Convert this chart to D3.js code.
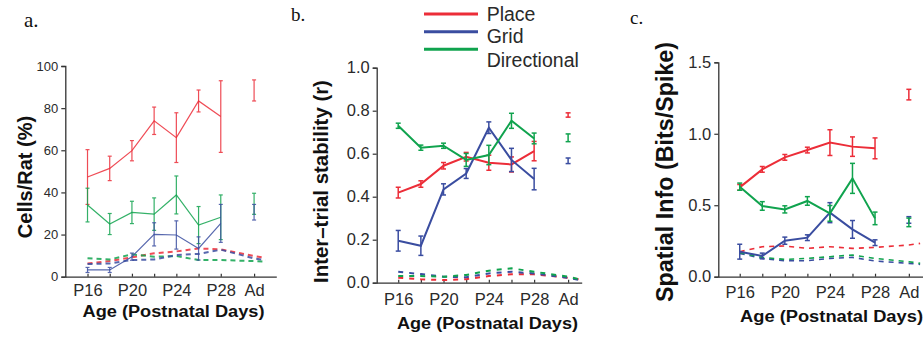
<!DOCTYPE html>
<html><head><meta charset="utf-8">
<script src="https://cdn.jsdelivr.net/npm/d3@7"></script>
<style>html,body{margin:0;padding:0;background:#fff;overflow:hidden}</style>
</head><body>
<svg id="chart" width="923" height="337"></svg>
<script>
// ---------- data ----------
const ages = ["P16","P18","P20","P22","P24","P26","P28","Ad"];
const agePos = [0,1,2,3,4,5,6,7.5];
const tickLabels = ["P16","P20","P24","P28","Ad"];
const shufflePos = [0,1,2,3,4,5,6,7.5,8];
const seriesNames = ["Place","Grid","Directional"];

// a. Cells/Rat (%)
const cellsPlace    = [47.3, 51.4, 59.8, 74.0, 66.0, 83.4, 76.0, 88.4];
const cellsPlaceErr = [13, 5.8, 4.8, 6.5, 11.8, 5.2, 17, 5];
const cellsGrid     = [3.2, 3.2, 9.5, 20.1, 19.8, 13.4, 25.3, 30.6];
const cellsGridErr  = [1.2, 1.2, 1.7, 5.5, 6.7, 5.5, 9, 3.7];
const cellsDir      = [34.0, 25.0, 30.5, 29.7, 38.8, 24.5, 28.2, 34.6];
const cellsDirErr   = [8, 5, 5.3, 7.7, 9, 8.8, 10.6, 5];
const cellsPlaceShuf = [6.3, 7.4, 9.2, 11.1, 12.0, 13.4, 13.0, 9.8, 9.0];
const cellsGridShuf  = [6.0, 6.3, 7.9, 8.2, 10.3, 10.8, 12.8, 8.7, 7.9];
const cellsDirShuf   = [8.7, 8.2, 10.6, 9.5, 9.8, 7.9, 7.9, 7.4, 7.1];

// b. Inter-trial stability (r)
const stabPlace    = [0.419, 0.459, 0.544, 0.586, 0.558, 0.550, 0.612, 0.780];
const stabPlaceErr = [0.025, 0.015, 0.015, 0.020, 0.035, 0.035, 0.045, 0.010];
const stabGrid     = [0.195, 0.172, 0.434, 0.508, 0.721, 0.571, 0.482, 0.567];
const stabGridErr  = [0.048, 0.045, 0.026, 0.023, 0.027, 0.054, 0.050, 0.013];
const stabDir      = [0.730, 0.628, 0.637, 0.571, 0.594, 0.753, 0.671, 0.674];
const stabDirErr   = [0.012, 0.012, 0.012, 0.030, 0.045, 0.035, 0.025, 0.018];
const stabPlaceShuf = [0.023, 0.016, 0.012, 0.016, 0.031, 0.039, 0.039, 0.023, 0.016];
const stabGridShuf  = [0.051, 0.040, 0.028, 0.025, 0.043, 0.051, 0.043, 0.023, 0.012];
const stabDirShuf   = [0.031, 0.031, 0.028, 0.036, 0.056, 0.067, 0.051, 0.028, 0.016];

// c. Spatial Info (Bits/Spike)
const infoPlace    = [0.625, 0.751, 0.835, 0.886, 0.938, 0.910, 0.898, 1.274];
const infoPlaceErr = [0.020, 0.020, 0.020, 0.020, 0.090, 0.068, 0.073, 0.037];
const infoGrid     = [0.175, 0.145, 0.252, 0.273, 0.448, 0.331, 0.238, 0.397];
const infoGridErr  = [0.052, 0.020, 0.025, 0.020, 0.070, 0.062, 0.020, 0.023];
const infoDir      = [0.630, 0.495, 0.471, 0.530, 0.443, 0.688, 0.408, 0.380];
const infoDirErr   = [0.025, 0.030, 0.025, 0.030, 0.055, 0.105, 0.044, 0.030];
const infoPlaceShuf = [0.175, 0.210, 0.215, 0.198, 0.210, 0.198, 0.205, 0.222, 0.233];
const infoGridShuf  = [0.163, 0.128, 0.112, 0.112, 0.128, 0.135, 0.110, 0.093, 0.086];
const infoDirShuf   = [0.168, 0.135, 0.121, 0.128, 0.140, 0.152, 0.128, 0.105, 0.093];

const yTicksA = [0,20,40,60,80,100];
const yTicksB = [0,0.2,0.4,0.6,0.8,1.0];
const yTicksC = [0,0.5,1.0,1.5];

// ---------- styling ----------
const colors = {Place:"#ec2d38", Grid:"#3a4da0", Directional:"#10a34e"};
const svg = d3.select("#chart");
const txt = "#2a2a2a";

const panels = [
  {label:"a.", lx:24, ly:27, lsize:21,
   xr:[65.3,276.3], xd:[-1,8.5], yr:[276.7,66], yd:[0,100], ticks:yTicksA, fmt:d3.format("d"),
   ytf:13, xtf:16.5, xtb:296,
   ytitle:"Cells/Rat (%)", ytx:32, yty:177, ytsize:20,
   xtitle:"Age (Postnatal Days)", xtx:173.5, xtyb:317, xtanchor:"middle", xtsize:16, xtlen:182,
   lw:1.2, ew:1.2, cap:4, op:0.85, dw:2, dash:"5,4",
   series:[
     {name:"Place", m:cellsPlace, e:cellsPlaceErr, s:cellsPlaceShuf},
     {name:"Directional", m:cellsDir, e:cellsDirErr, s:cellsDirShuf},
     {name:"Grid", m:cellsGrid, e:cellsGridErr, s:cellsGridShuf}]},
  {label:"b.", lx:291, ly:21, lsize:19,
   xr:[376.7,581.7], xd:[-0.95,8.1], yr:[282.7,67.7], yd:[0,1], ticks:yTicksB, fmt:d3.format(".1f"),
   ytf:16.5, xtf:16.5, xtb:305,
   ytitle:"Inter\u2013trial stability (r)", ytx:327.5, yty:181.5, ytsize:20.4,
   xtitle:"Age (Postnatal Days)", xtx:487.5, xtyb:328.5, xtanchor:"middle", xtsize:16, xtlen:181,
   lw:2, ew:1.5, cap:5, op:1, dw:2, dash:"5,6",
   series:[
     {name:"Place", m:stabPlace, e:stabPlaceErr, s:stabPlaceShuf},
     {name:"Grid", m:stabGrid, e:stabGridErr, s:stabGridShuf},
     {name:"Directional", m:stabDir, e:stabDirErr, s:stabDirShuf}]},
  {label:"c.", lx:630, ly:24, lsize:19,
   xr:[718.3,931.4], xd:[-0.95,8.5], yr:[276.7,62.3], yd:[0,1.5], ticks:yTicksC, fmt:d3.format(".1f"),
   ytf:16.5, xtf:16.5, xtb:298,
   ytitle:"Spatial Info (Bits/Spike)", ytx:672.5, yty:172, ytsize:23.3,
   xtitle:"Age (Postnatal Days)", xtx:740, xtyb:322, xtanchor:"start", xtsize:16, xtlen:183,
   lw:2, ew:1.5, cap:5, op:1, dw:1.6, dash:"5,5",
   series:[
     {name:"Place", m:infoPlace, e:infoPlaceErr, s:infoPlaceShuf},
     {name:"Grid", m:infoGrid, e:infoGridErr, s:infoGridShuf},
     {name:"Directional", m:infoDir, e:infoDirErr, s:infoDirShuf}]}
];

panels.forEach(p => {
  const x = d3.scaleLinear().domain(p.xd).range(p.xr);
  const y = d3.scaleLinear().domain(p.yd).range(p.yr);
  const g = svg.append("g");

  // panel label
  g.append("text").attr("x",p.lx).attr("y",p.ly)
    .attr("font-family","'Liberation Serif','Times New Roman',serif")
    .attr("font-size",p.lsize).attr("fill","#111").text(p.label);

  // y axis
  const ya = g.append("g").attr("transform",`translate(${p.xr[0]},0)`)
    .call(d3.axisLeft(y).tickValues(p.ticks).tickFormat(p.fmt).tickSize(4).tickPadding(3));
  ya.select(".domain").attr("stroke","#333").attr("stroke-width",1.3);
  ya.selectAll(".tick line").attr("stroke","#333").attr("stroke-width",1.2);
  ya.selectAll(".tick text").attr("font-family","'Liberation Sans',Arial,sans-serif")
    .attr("font-size",p.ytf).attr("fill",txt);

  // x axis
  const xa = g.append("g").attr("transform",`translate(0,${p.yr[0]})`)
    .call(d3.axisBottom(x).tickValues(agePos)
      .tickFormat((d,i) => tickLabels.includes(ages[i]) ? ages[i] : "")
      .tickSize(-3).tickSizeOuter(0));
  xa.select(".domain").attr("stroke","#333").attr("stroke-width",1.3);
  xa.selectAll(".tick line").attr("stroke","#333").attr("stroke-width",1.2);
  xa.selectAll(".tick text").attr("font-family","'Liberation Sans',Arial,sans-serif")
    .attr("font-size",p.xtf).attr("fill",txt).attr("dy",0).attr("y",p.xtb - p.yr[0]);

  // y title
  g.append("text").attr("transform",`translate(${p.ytx},${p.yty}) rotate(-90)`)
    .attr("text-anchor","middle").attr("font-family","'Liberation Sans',Arial,sans-serif")
    .attr("font-weight","bold").attr("font-size",p.ytsize).attr("fill","#111").text(p.ytitle);

  // x title
  g.append("text").attr("x",p.xtx).attr("y",p.xtyb).attr("text-anchor",p.xtanchor)
    .attr("font-family","'Liberation Sans',Arial,sans-serif").attr("font-weight","bold")
    .attr("font-size",p.xtsize).attr("textLength",p.xtlen).attr("lengthAdjust","spacingAndGlyphs")
    .attr("fill","#111").text(p.xtitle);

  const line = d3.line().x(d => x(d[0])).y(d => y(d[1]));

  // shuffled (dashed) lines
  p.series.forEach(s => {
    g.append("path").datum(shufflePos.map((v,i) => [v, s.s[i]]))
      .attr("d",line).attr("fill","none").attr("stroke",colors[s.name])
      .attr("stroke-width",p.dw).attr("stroke-dasharray",p.dash).attr("opacity",p.op);
  });

  // solid series + error bars
  p.series.forEach(s => {
    const c = colors[s.name];
    const pts = agePos.slice(0,7).map((v,i) => [v, s.m[i]]);
    g.append("path").datum(pts).attr("d",line).attr("fill","none")
      .attr("stroke",c).attr("stroke-width",p.lw).attr("opacity",p.op);
    const eb = g.append("g").attr("stroke",c).attr("stroke-width",p.ew).attr("opacity",p.op);
    agePos.forEach((v,i) => {
      const cx = x(v), y1 = y(s.m[i]-s.e[i]), y2 = y(s.m[i]+s.e[i]);
      eb.append("line").attr("x1",cx).attr("x2",cx).attr("y1",y1).attr("y2",y2);
      eb.append("line").attr("x1",cx-p.cap/2).attr("x2",cx+p.cap/2).attr("y1",y1).attr("y2",y1);
      eb.append("line").attr("x1",cx-p.cap/2).attr("x2",cx+p.cap/2).attr("y1",y2).attr("y2",y2);
    });
  });
});

// legend
const legY = [14, 31.7, 49.3];
const legTextY = [20.7, 43.3, 66.5];
const lg = svg.append("g");
seriesNames.forEach((n,i) => {
  lg.append("line").attr("x1",424).attr("x2",478).attr("y1",legY[i]).attr("y2",legY[i])
    .attr("stroke",colors[n]).attr("stroke-width",3);
  lg.append("text").attr("x",486.7).attr("y",legTextY[i])
    .attr("font-family","'Liberation Sans',Arial,sans-serif").attr("font-size",19.5)
    .attr("fill",txt).text(n);
});
</script>
</body></html>
